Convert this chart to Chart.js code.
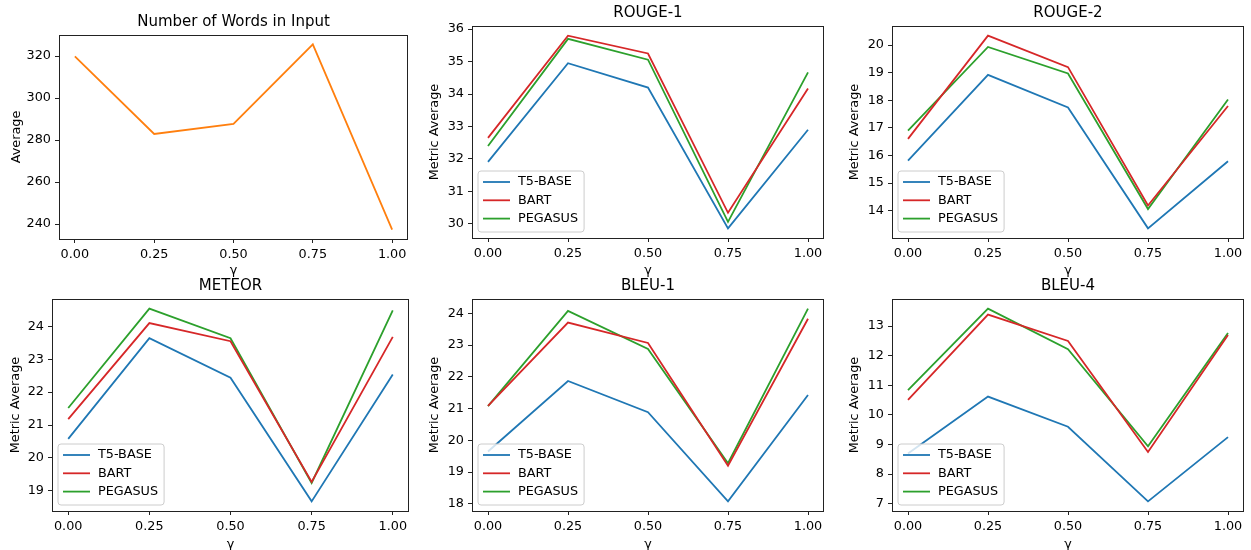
<!DOCTYPE html>
<html>
<head>
<meta charset="utf-8">
<script src="https://cdn.jsdelivr.net/npm/chart.js@4.4.1/dist/chart.umd.min.js"></script>
<style>
  html, body { margin: 0; padding: 0; background: #fff; overflow: hidden; }
  #fig { position: relative; width: 1251px; height: 550px; overflow: hidden; }
  .panel { position: absolute; }
</style>
</head>
<body>
<div id="fig"></div>
<script>
// gamma values on the x axis
const gamma = [0, 0.25, 0.5, 0.75, 1.0];
const gammaLabels = ['0.00', '0.25', '0.50', '0.75', '1.00'];
const models = ['T5-BASE', 'BART', 'PEGASUS'];

// Number of words in input
const wordsAvg = [319.8, 282.9, 287.7, 325.6, 237.3];
const wordsTicks = [240, 260, 280, 300, 320];

// ROUGE-1
const rouge1T5 = [31.91, 34.95, 34.20, 29.86, 32.90];
const rouge1Bart = [32.65, 35.80, 35.25, 30.34, 34.17];
const rouge1Pegasus = [32.40, 35.70, 35.06, 30.06, 34.67];
const rouge1Ticks = [30, 31, 32, 33, 34, 35, 36];

// ROUGE-2
const rouge2T5 = [15.81, 18.92, 17.74, 13.36, 15.79];
const rouge2Bart = [16.60, 20.34, 19.20, 14.19, 17.79];
const rouge2Pegasus = [16.90, 19.93, 18.97, 14.06, 18.03];
const rouge2Ticks = [14, 15, 16, 17, 18, 19, 20];

// METEOR
const meteorT5 = [20.58, 23.64, 22.44, 18.68, 22.54];
const meteorBart = [21.18, 24.10, 23.55, 19.27, 23.68];
const meteorPegasus = [21.52, 24.54, 23.64, 19.24, 24.49];
const meteorTicks = [19, 20, 21, 22, 23, 24];

// BLEU-1
const bleu1T5 = [19.65, 21.87, 20.89, 18.08, 21.43];
const bleu1Bart = [21.09, 23.71, 23.07, 19.20, 23.83];
const bleu1Pegasus = [21.08, 24.08, 22.88, 19.28, 24.15];
const bleu1Ticks = [18, 19, 20, 21, 22, 23, 24];

// BLEU-4
const bleu4T5 = [8.70, 10.62, 9.60, 7.08, 9.25];
const bleu4Bart = [10.51, 13.39, 12.50, 8.75, 12.70];
const bleu4Pegasus = [10.84, 13.59, 12.22, 8.94, 12.77];
const bleu4Ticks = [7, 8, 9, 10, 11, 12, 13];

const colors = ['#1f77b4', '#d62728', '#2ca02c'];
const FONT = '"DejaVu Sans", sans-serif';
const FS = 12.8;

Chart.defaults.font.family = FONT;
Chart.defaults.font.size = FS;
Chart.defaults.color = '#000';

// matplotlib style autoscale: data range plus 5% on each side
function paddedRange(seriesList) {
  const all = [].concat(...seriesList);
  const lo = Math.min(...all), hi = Math.max(...all);
  const m = (hi - lo) * 0.05;
  return [lo - m, hi + m];
}

// box round the axes
const framePlugin = {
  id: 'frame',
  afterDraw(chart) {
    const a = chart.chartArea;
    const ctx = chart.ctx;
    ctx.save();
    ctx.strokeStyle = '#222';
    ctx.lineWidth = 1;
    ctx.strokeRect(Math.round(a.left) + 0.5, Math.round(a.top) + 0.5,
                   Math.round(a.right - a.left) - 1, Math.round(a.bottom - a.top));
    ctx.restore();
  }
};

// legend in the lower left corner, drawn like matplotlib's
function legendPlugin(show) {
  return {
    id: 'mplLegend',
    afterDatasetsDraw(chart) {
      if (!show) return;
      const a = chart.chartArea;
      const ctx = chart.ctx;
      const sets = chart.data.datasets;
      ctx.save();
      ctx.font = FS + 'px ' + FONT;
      const textW = Math.max(...sets.map(d => ctx.measureText(d.label).width));
      const w = 40 + textW + 6, h = 61, r = 3;
      const x = a.left + 6, y = a.bottom - 6 - h;
      ctx.beginPath();
      ctx.moveTo(x + r, y);
      ctx.arcTo(x + w, y, x + w, y + h, r);
      ctx.arcTo(x + w, y + h, x, y + h, r);
      ctx.arcTo(x, y + h, x, y, r);
      ctx.arcTo(x, y, x + w, y, r);
      ctx.closePath();
      ctx.fillStyle = 'rgba(255,255,255,0.8)';
      ctx.fill();
      ctx.strokeStyle = '#cccccc';
      ctx.lineWidth = 1;
      ctx.stroke();
      sets.forEach((d, i) => {
        const cy = y + 11 + i * 18.3;
        ctx.beginPath();
        ctx.moveTo(x + 5, cy);
        ctx.lineTo(x + 32, cy);
        ctx.strokeStyle = d.borderColor;
        ctx.lineWidth = 1.8;
        ctx.stroke();
        ctx.fillStyle = '#000';
        ctx.textBaseline = 'middle';
        ctx.textAlign = 'left';
        ctx.fillText(d.label, x + 40, cy);
      });
      ctx.restore();
    }
  };
}

function makePanel(p) {
  const fig = document.getElementById('fig');
  const div = document.createElement('div');
  div.className = 'panel';
  div.style.left = p.x + 'px';
  div.style.top = p.y + 'px';
  div.style.width = p.w + 'px';
  div.style.height = p.h + 'px';
  const canvas = document.createElement('canvas');
  div.appendChild(canvas);
  fig.appendChild(div);

  const [ymin, ymax] = paddedRange(p.series.map(s => s.values));

  new Chart(canvas, {
    type: 'line',
    data: {
      datasets: p.series.map(s => ({
        label: s.label,
        data: gamma.map((g, i) => ({ x: g, y: s.values[i] })),
        borderColor: s.color,
        backgroundColor: s.color,
        borderWidth: 1.8,
        pointRadius: 0,
        fill: false,
        tension: 0
      }))
    },
    options: {
      responsive: true,
      maintainAspectRatio: false,
      animation: false,
      layout: { padding: { left: 0, right: p.padRight, top: 0, bottom: 0 } },
      plugins: {
        legend: { display: false },
        tooltip: { enabled: false },
        title: {
          display: true,
          text: p.title,
          fullSize: false,
          color: '#000',
          font: { family: FONT, size: 15, weight: 'normal' },
          padding: { top: p.titleTop, bottom: p.titleBottom }
        }
      },
      scales: {
        x: {
          type: 'linear',
          min: -0.05,
          max: 1.05,
          afterBuildTicks: s => { s.ticks = gamma.map(v => ({ value: v })); },
          afterFit: s => { s.height = p.xH; s.paddingLeft = 0; s.paddingRight = 0; },
          ticks: {
            autoSkip: false,
            maxRotation: 0,
            padding: 4,
            color: '#000',
            callback: v => gammaLabels[gamma.indexOf(v)]
          },
          grid: { drawOnChartArea: false, drawTicks: true, tickLength: 4, color: '#222', lineWidth: 1 },
          border: { display: false },
          title: { display: true, text: 'γ', color: '#000', padding: { top: 0, bottom: p.xTitlePad } }
        },
        y: {
          type: 'linear',
          min: ymin,
          max: ymax,
          afterBuildTicks: s => { s.ticks = p.yTicks.map(v => ({ value: v })); },
          afterFit: s => { s.width = p.yW; s.paddingTop = 0; s.paddingBottom = 0; },
          ticks: { padding: 4, color: '#000', callback: v => String(v) },
          grid: { drawOnChartArea: false, drawTicks: true, tickLength: 4, color: '#222', lineWidth: 1 },
          border: { display: false },
          title: { display: true, text: p.yLabel, color: '#000', padding: { top: p.yTitlePad, bottom: 0 } }
        }
      }
    },
    plugins: [framePlugin, legendPlugin(p.legend)]
  });
}

function metricSeries(t5, bart, pegasus) {
  return [t5, bart, pegasus].map((v, i) => ({ label: models[i], values: v, color: colors[i] }));
}

const panels = [
  { title: 'Number of Words in Input', yLabel: 'Average', legend: false,
    series: [{ label: 'Average', values: wordsAvg, color: '#ff7f0e' }], yTicks: wordsTicks,
    x: 0, y: 0, w: 430, h: 290, yW: 59, padRight: 22, titleTop: 13, titleBottom: 4, xH: 51, xTitlePad: 11.3, yTitlePad: 9 },
  { title: 'ROUGE-1', yLabel: 'Metric Average', legend: true,
    series: metricSeries(rouge1T5, rouge1Bart, rouge1Pegasus), yTicks: rouge1Ticks,
    x: 420, y: 0, w: 420, h: 290, yW: 52, padRight: 16, titleTop: 4, titleBottom: 4, xH: 52, xTitlePad: 11.3, yTitlePad: 7.3 },
  { title: 'ROUGE-2', yLabel: 'Metric Average', legend: true,
    series: metricSeries(rouge2T5, rouge2Bart, rouge2Pegasus), yTicks: rouge2Ticks,
    x: 840, y: 0, w: 411, h: 290, yW: 52, padRight: 7, titleTop: 4, titleBottom: 4, xH: 52, xTitlePad: 11.3, yTitlePad: 7.3 },
  { title: 'METEOR', yLabel: 'Metric Average', legend: true,
    series: metricSeries(meteorT5, meteorBart, meteorPegasus), yTicks: meteorTicks,
    x: 0, y: 275, w: 430, h: 285, yW: 52, padRight: 21, titleTop: 2, titleBottom: 4, xH: 49, xTitlePad: 7.3, yTitlePad: 7.8 },
  { title: 'BLEU-1', yLabel: 'Metric Average', legend: true,
    series: metricSeries(bleu1T5, bleu1Bart, bleu1Pegasus), yTicks: bleu1Ticks,
    x: 420, y: 275, w: 420, h: 285, yW: 52, padRight: 16, titleTop: 2, titleBottom: 4, xH: 49, xTitlePad: 7.3, yTitlePad: 7.3 },
  { title: 'BLEU-4', yLabel: 'Metric Average', legend: true,
    series: metricSeries(bleu4T5, bleu4Bart, bleu4Pegasus), yTicks: bleu4Ticks,
    x: 840, y: 275, w: 411, h: 285, yW: 52, padRight: 7, titleTop: 2, titleBottom: 4, xH: 49, xTitlePad: 7.3, yTitlePad: 7.3 }
];

panels.forEach(makePanel);
</script>
</body>
</html>
